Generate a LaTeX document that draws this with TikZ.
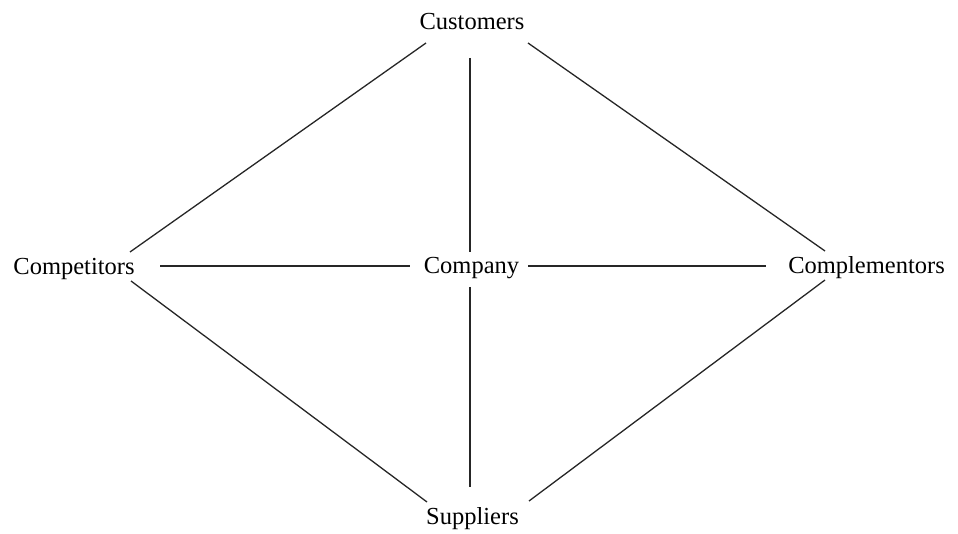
\documentclass[tikz,border=0pt]{standalone}
\usepackage{fontspec}
\setmainfont{Liberation Serif}
\begin{document}
\begin{tikzpicture}[x=1pt,y=-1pt,
  lbl/.style={anchor=base,inner sep=0pt,font=\fontsize{24.5}{29}\selectfont},
  conn/.style={line width=1.3pt,black!85}]
\useasboundingbox (0,0) rectangle (958,534);
\node[lbl] (cust) at (472,30) {Customers};
\node[lbl] (compet) at (74,275) {Competitors};
\node[lbl] (company) at (471.5,274) {Company};
\node[lbl] (compl) at (866.5,274) {Complementors};
\node[lbl] (supp) at (472.5,524) {Suppliers};
% connector end points
\coordinate (custL) at (426,43);
\coordinate (custR) at (528,43);
\coordinate (custB) at (470,58);
\coordinate (competUR) at (130,252);
\coordinate (competR) at (160,266);
\coordinate (competLR) at (131,281);
\coordinate (companyL) at (410,266);
\coordinate (companyR) at (528,266);
\coordinate (companyT) at (470,252);
\coordinate (companyB) at (470,287);
\coordinate (complUL) at (825,251);
\coordinate (complL) at (766,266);
\coordinate (complLL) at (825,280);
\coordinate (suppUL) at (427,502);
\coordinate (suppT) at (470,487);
\coordinate (suppUR) at (529,501);
\draw[conn] (custL) -- (competUR);
\draw[conn] (custR) -- (complUL);
\draw[conn] (custB) -- (companyT);
\draw[conn] (competR) -- (companyL);
\draw[conn] (companyR) -- (complL);
\draw[conn] (companyB) -- (suppT);
\draw[conn] (competLR) -- (suppUL);
\draw[conn] (complLL) -- (suppUR);
\end{tikzpicture}
\end{document}
